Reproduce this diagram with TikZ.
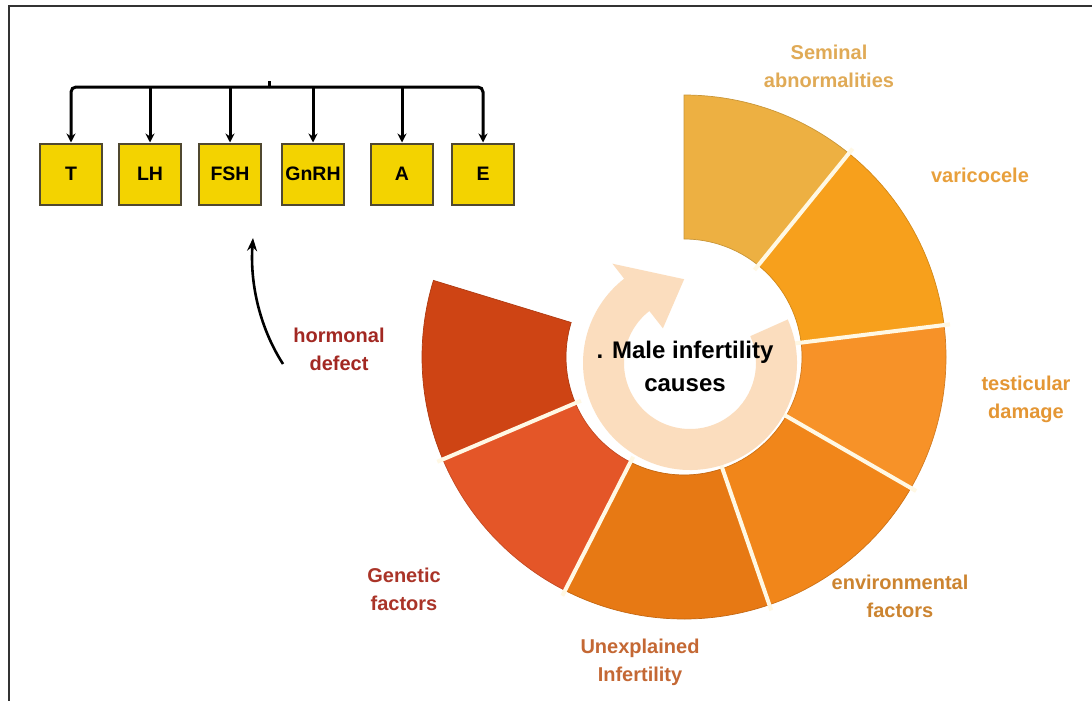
\documentclass[tikz,border=0pt]{standalone}
\usepackage{fontspec}
\setmainfont{Liberation Sans}
\usetikzlibrary{arrows.meta}
\definecolor{cSem}{RGB}{237,176,66}
\definecolor{cVar}{RGB}{247,160,28}
\definecolor{cTes}{RGB}{247,146,40}
\definecolor{cEnv}{RGB}{241,134,26}
\definecolor{cUne}{RGB}{231,121,20}
\definecolor{cGen}{RGB}{228,86,40}
\definecolor{cHor}{RGB}{206,68,20}
\definecolor{peach}{RGB}{251,221,190}
\definecolor{gap}{RGB}{255,248,228}
\definecolor{boxy}{RGB}{243,211,0}
\definecolor{boxline}{RGB}{80,72,48}
\definecolor{lSem}{RGB}{224,170,86}
\definecolor{lVar}{RGB}{232,160,60}
\definecolor{lTes}{RGB}{228,150,52}
\definecolor{lEnv}{RGB}{204,132,48}
\definecolor{lUne}{RGB}{196,104,52}
\definecolor{lGen}{RGB}{170,52,40}
\definecolor{lHor}{RGB}{162,40,34}
\definecolor{frameline}{RGB}{50,50,50}
\newcommand{\segm}[3]{%
  \fill[#3, draw=#3!85!black, line width=0.7pt]
    ([shift={(#1:262)}]rc) arc[start angle=#1, end angle=#2, radius=262]
    -- ([shift={(#2:118)}]rc) arc[start angle=#2, end angle=#1, radius=118] -- cycle;}
\newcommand{\gapline}[1]{%
  \draw[gap, line width=4pt] ([shift={(#1:112)}]rc) -- ([shift={(#1:268)}]rc);}
\begin{document}
\begin{tikzpicture}[x=1pt,y=-1pt,
  hbox/.style={draw=boxline, fill=boxy, line width=2pt, minimum width=62pt,
    minimum height=61pt, inner sep=0pt, font=\fontsize{19.5}{19.5}\selectfont\bfseries},
  busline/.style={line width=3pt, black},
  busarrow/.style={busline, -{Stealth[length=9pt,width=9pt]}},
  lab/.style={font=\fontsize{20}{28}\selectfont\bfseries, align=center, inner sep=0pt},
  frame/.style={draw=frameline, line width=2pt}]
\useasboundingbox (0,0) rectangle (1092,701);
\fill[white] (0,0) rectangle (1092,701);
\draw[frame] (9,701) -- (9,6) -- (1092,6);

% ring
\coordinate (rc) at (684,357);
\segm{-90}{-51}{cSem}
\segm{-51}{-7}{cVar}
\segm{-7}{30}{cTes}
\segm{30}{71}{cEnv}
\segm{71}{117}{cUne}
\segm{117}{157}{cGen}
\segm{157}{197}{cHor}
\gapline{-51}
\gapline{-7}
\gapline{30}
\gapline{71}
\gapline{117}
\gapline{157}

% peach circular arrow
\coordinate (pc) at (690,363);
\fill[peach] ([shift={(-24:107)}]pc) arc[start angle=-24, end angle=232, radius=107]
  -- ([shift={(232:126)}]pc) -- ([shift={(266:84)}]pc) -- ([shift={(232:44)}]pc)
  -- ([shift={(232:66)}]pc) arc[start angle=232, end angle=-24, radius=66] -- cycle;

\node[font=\fontsize{24}{33}\selectfont\bfseries, align=center, inner sep=0pt]
  (center) at (685,366) {. Male infertility\\causes};

% labels
\node[lab, text=lSem] (lsem) at (829,66) {Seminal\\abnormalities};
\node[lab, text=lVar] (lvar) at (980,175) {varicocele};
\node[lab, text=lTes] (ltes) at (1026,399) {testicular\\damage};
\node[lab, text=lEnv] (lenv) at (900,596) {environmental\\factors};
\node[lab, text=lUne] (lune) at (640,662) {Unexplained\\Infertility};
\node[lab, text=lGen] (lgen) at (404,589) {Genetic\\factors};
\node[lab, text=lHor] (lhor) at (339,349) {hormonal\\defect};

% hormone boxes
\node[hbox] (T) at (71,174) {T};
\node[hbox] (LH) at (150,174) {LH};
\node[hbox] (FSH) at (230,174) {FSH};
\node[hbox] (GnRH) at (313,174) {GnRH};
\node[hbox] (A) at (402,174) {A};
\node[hbox] (E) at (483,174) {E};
\coordinate (hc) at (269,87);
\coordinate (tick) at (269,81);
\draw[busline] (hc) -- (tick);
\draw[busarrow, rounded corners=5pt] (hc) -| (T.north);
\draw[busarrow, rounded corners=5pt] (hc) -| (E.north);
\foreach \b in {LH,FSH,GnRH,A}{
  \draw[busarrow] (\b.north |- hc) -- (\b.north);
}

% curved arrow
\coordinate (ctail) at (283,364);
\coordinate (chead) at (253,238);
\draw[line width=2.6pt, -{Stealth[length=13pt,width=10pt]}]
  (ctail) .. controls (258,325) and (250,280) .. (chead);
\end{tikzpicture}
\end{document}
